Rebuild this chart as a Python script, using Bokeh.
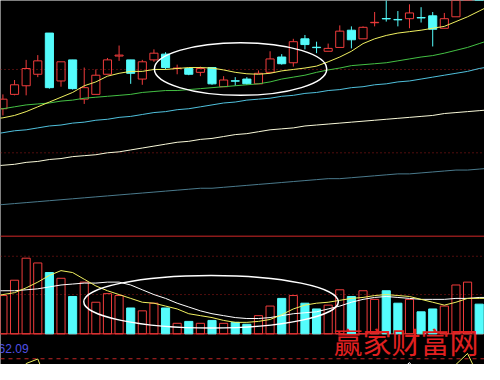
from bokeh.plotting import figure
from bokeh.models import Range1d, Span, ColumnDataSource
from bokeh.core.properties import value
from bokeh.embed import file_html
from bokeh.resources import INLINE

RED = "#f03c3c"
CYAN = "#54fcfc"

# ---- daily candles (price) ----
days = list(range(42))
opens = [18.70, 20.20, 21.10, 22.30, 26.60, 21.60, 23.80, 19.70, 20.20, 22.30,
         24.20, 23.80, 21.80, 23.80, 24.40, 22.90, 22.90, 22.50, 23.00, 21.00,
         21.62, 21.80, 21.30, 22.50, 24.10, 23.50, 26.00, 25.12, 24.70, 25.10,
         26.90, 26.00, 27.68, 28.12, 28.02, 28.10, 28.22, 28.40, 27.10, 28.30,
         30.60, 32.20]
highs = [20.20, 21.70, 23.80, 24.30, 26.60, 23.60, 23.80, 23.00, 22.80, 24.00,
         25.30, 23.80, 23.80, 24.90, 24.60, 23.30, 22.90, 23.10, 23.00, 22.10,
         22.00, 22.00, 22.70, 24.70, 24.40, 26.00, 26.40, 25.70, 25.50, 27.40,
         27.30, 27.30, 28.80, 30.20, 28.90, 29.60, 29.30, 28.80, 28.70, 30.80,
         31.80, 32.60]
lows = [18.00, 20.10, 20.10, 22.00, 20.80, 21.00, 20.70, 19.20, 20.20, 22.30,
        23.70, 21.30, 21.20, 23.60, 22.80, 22.30, 22.20, 22.10, 21.20, 21.00,
        21.10, 21.20, 21.30, 22.50, 23.30, 23.10, 24.90, 24.50, 24.70, 25.10,
        25.00, 26.00, 27.30, 27.80, 27.30, 27.10, 27.70, 25.20, 27.10, 28.30,
        30.30, 31.40]
closes = [19.70, 21.20, 22.90, 23.70, 20.90, 23.60, 20.80, 20.90, 22.20, 23.80,
          24.30, 22.40, 23.60, 24.50, 23.00, 22.95, 22.30, 22.90, 21.30, 21.70,
          21.58, 21.30, 22.40, 23.90, 23.40, 25.70, 25.40, 25.08, 25.00, 26.80,
          25.90, 27.20, 27.72, 28.08, 27.98, 28.70, 28.18, 27.00, 28.10, 30.40,
          31.50, 31.60]
volumes = [40, 56, 79, 74, 64, 58, 39, 54, 33, 42,
           40, 27, 24, 32, 27, 11, 13, 11, 14, 11,
           12, 10, 19, 29, 37, 40, 32, 26, 30, 46,
           39, 45, 36, 45, 32, 36, 23, 26, 29, 51,
           54, 31]

# ---- moving averages (index -1 .. 42) ----
ma_days = list(range(-1, 43))
ma_yellow = [17.60, 17.75, 18.00, 18.40, 18.90, 19.40, 19.90, 20.40, 21.10, 21.50,
             22.10, 22.40, 22.60, 22.60, 22.80, 22.80, 22.90, 23.00, 23.00, 22.95,
             22.75, 22.50, 22.35, 22.30, 22.40, 22.65, 22.80, 22.95, 23.15, 23.60,
             24.10, 24.70, 25.50, 26.00, 26.35, 26.60, 26.75, 26.90, 27.10, 27.30,
             27.80, 28.30, 28.90, 29.50]
ma_green = [18.60, 18.70, 18.90, 19.10, 19.20, 19.30, 19.50, 19.60, 19.80, 19.90,
            20.00, 20.10, 20.20, 20.40, 20.50, 20.60, 20.60, 20.70, 20.80, 20.90,
            21.00, 21.10, 21.20, 21.30, 21.50, 21.80, 22.00, 22.20, 22.50, 22.75,
            22.95, 23.20, 23.30, 23.40, 23.50, 23.70, 23.90, 24.10, 24.25, 24.50,
            24.80, 25.10, 25.50, 25.90]
ma_cyan = [16.00, 16.20, 16.40, 16.50, 16.70, 16.90, 17.00, 17.20, 17.30, 17.50,
           17.60, 17.80, 17.90, 18.10, 18.30, 18.40, 18.60, 18.70, 18.90, 19.10,
           19.30, 19.40, 19.60, 19.70, 19.80, 20.00, 20.10, 20.30, 20.40, 20.60,
           20.70, 20.90, 21.00, 21.20, 21.30, 21.50, 21.60, 21.80, 22.00, 22.20,
           22.40, 22.60, 22.90, 23.10]
ma_white = [12.70, 12.80, 12.90, 13.10, 13.20, 13.40, 13.50, 13.70, 13.80, 13.90,
            14.10, 14.20, 14.40, 14.60, 14.80, 15.00, 15.20, 15.30, 15.50, 15.60,
            15.80, 16.00, 16.10, 16.30, 16.50, 16.60, 16.70, 16.90, 17.00, 17.10,
            17.20, 17.30, 17.40, 17.50, 17.60, 17.70, 17.80, 17.90, 18.00, 18.20,
            18.30, 18.40, 18.50, 18.60]
ma_gray = [8.60, 8.70, 8.80, 8.90, 9.00, 9.10, 9.20, 9.30, 9.40, 9.50,
           9.60, 9.70, 9.80, 9.90, 10.00, 10.10, 10.20, 10.30, 10.40, 10.40,
           10.50, 10.60, 10.70, 10.80, 10.90, 11.00, 11.10, 11.20, 11.30, 11.40,
           11.40, 11.50, 11.60, 11.70, 11.80, 11.90, 11.90, 12.00, 12.10, 12.20,
           12.30, 12.30, 12.40, 12.50]
vol_ma5 = [39, 41, 43, 48, 54, 61, 66, 64, 57, 50,
           45, 41, 37, 33, 32, 29, 26, 21, 19, 17,
           14, 12, 12, 13, 15, 20, 26, 30, 32, 33,
           35, 37, 38, 40, 41, 40, 39, 36, 33, 30,
           33, 37, 37, 37]
vol_ma10 = [45, 45, 45, 46, 47, 49, 51, 52, 53, 53,
            54, 54, 51, 46, 41, 37, 32, 28, 24, 21,
            19, 17, 16, 16, 17, 19, 21, 22, 23, 26,
            29, 33, 36, 38, 39, 38, 37, 36, 36, 36,
            37, 37, 38, 38]

# ---- lower indicator (only its peaks reach into view) ----
ind_j = [60, 45, 90, 99.5, 40, 55, 30, 48, 62, 70,
         58, 35, 22, 40, 30, 18, 25, 20, 28, 15,
         22, 18, 35, 55, 48, 66, 52, 40, 45, 72,
         60, 75, 80, 78, 64, 70, 50, 38, 55, 88,
         111, 60]
ind_k = [50, 48, 62, 70, 60, 58, 48, 50, 55, 62,
         60, 50, 40, 42, 38, 30, 28, 26, 27, 22,
         22, 21, 26, 36, 40, 48, 50, 46, 46, 56,
         58, 63, 68, 72, 70, 92, 62, 52, 52, 64,
         80, 72]

# reference levels
price_levels = [22.8, 14.1]
price_separator = 5.4
vol_levels = [81, 41]
ind_level = 100

# highlighted zones (day start, day end, low, high)
price_zone = (13.04, 27.875, 20.1, 25.6)
vol_zone = (6.96, 28.875, 6, 61)

vol_label = "62.09"
watermark = "赢家财富网"

# ---------------- build sources ----------------
up = dict(x=[], top=[], bottom=[], hi=[], lo=[], vol=[])
dn = dict(x=[], top=[], bottom=[], hi=[], lo=[], vol=[])
for d, o, h, l, c, v in zip(days, opens, highs, lows, closes, volumes):
    tgt = up if c >= o else dn
    tgt["x"].append(d)
    tgt["top"].append(max(o, c))
    tgt["bottom"].append(min(o, c))
    tgt["hi"].append(h)
    tgt["lo"].append(l)
    tgt["vol"].append(v)
src_up = ColumnDataSource(up)
src_dn = ColumnDataSource(dn)

p = figure(width=484, height=364, output_backend="svg", toolbar_location=None,
           x_range=Range1d(-0.2083, 41.4583), y_range=Range1d(-8, 30),
           x_axis_location=None, y_axis_location=None,
           background_fill_color="black", border_fill_color="black",
           min_border=0, outline_line_color=None)
p.grid.visible = False
p.extra_y_ranges = {"vol": Range1d(-32, 348), "ind": Range1d(88, 848)}

for lv in price_levels:
    p.add_layout(Span(location=lv, dimension="width", line_color="#a01c1c",
                      line_dash="1 3", line_width=1, level="underlay"))
p.add_layout(Span(location=price_separator, dimension="width", line_color="#8c1a1a",
                  line_width=1.5, level="underlay"))
for lv in vol_levels:
    p.add_layout(Span(location=lv, dimension="width", y_range_name="vol",
                      line_color="#a01c1c", line_dash="1 3", line_width=1, level="underlay"))
p.add_layout(Span(location=0, dimension="width", y_range_name="vol",
                  line_color="#a01c1c", line_width=1.5, level="underlay"))
p.add_layout(Span(location=ind_level, dimension="width", y_range_name="ind",
                  line_color="#c02424", line_dash="4 4", line_width=1, level="underlay"))

# candles
p.segment(x0="x", y0="hi", x1="x", y1="top", source=src_up, line_color=RED, line_width=1)
p.segment(x0="x", y0="bottom", x1="x", y1="lo", source=src_up, line_color=RED, line_width=1)
p.vbar(x="x", top="top", bottom="bottom", width=0.7, source=src_up,
       fill_color=None, line_color=RED, line_width=1)
p.segment(x0="x", y0="hi", x1="x", y1="lo", source=src_dn, line_color=CYAN, line_width=1)
p.vbar(x="x", top="top", bottom="bottom", width=0.7, source=src_dn,
       fill_color=CYAN, line_color=CYAN, line_width=1)

# moving averages
p.line(ma_days, ma_gray, line_color="#4a7a8c", line_width=1)
p.line(ma_days, ma_white, line_color="#f8f8d8", line_width=1)
p.line(ma_days, ma_cyan, line_color="#50c0dc", line_width=1)
p.line(ma_days, ma_green, line_color="#44c044", line_width=1)
p.line(ma_days, ma_yellow, line_color="#f0f060", line_width=1)

# volume
p.vbar(x="x", top="vol", bottom=0, width=0.7, source=src_up, y_range_name="vol",
       fill_color=None, line_color=RED, line_width=1)
p.vbar(x="x", top="vol", bottom=0, width=0.7, source=src_dn, y_range_name="vol",
       fill_color=CYAN, line_color=CYAN, line_width=1)
p.line(ma_days, vol_ma10, y_range_name="vol", line_color="#ffffff", line_width=1)
p.line(ma_days, vol_ma5, y_range_name="vol", line_color="#f0f060", line_width=1)

# lower indicator
p.line(days, ind_k, y_range_name="ind", line_color="#ffffff", line_width=1)
p.line(days, ind_j, y_range_name="ind", line_color="#f0f060", line_width=1)

# highlight ellipses
x0, x1, y0, y1 = price_zone
p.ellipse(x=[(x0 + x1) / 2], y=[(y0 + y1) / 2], width=[x1 - x0], height=[y1 - y0],
          fill_color=None, line_color="white", line_width=1.5)
x0, x1, y0, y1 = vol_zone
p.ellipse(x=[(x0 + x1) / 2], y=[(y0 + y1) / 2], width=[x1 - x0], height=[y1 - y0],
          y_range_name="vol", fill_color=None, line_color="white", line_width=1.5)

# texts
p.text(x=[-0.375], y=[-15], text=[vol_label], y_range_name="vol",
       text_font=value("Liberation Sans"), text_font_size="12px",
       text_color="#5050e6", text_align="left", text_baseline="alphabetic")
p.text(x=[34.7], y=[-7], text=[watermark], y_range_name="vol",
       text_font=value("Noto Sans CJK SC"), text_font_size="29px",
       text_color="#e02020", text_align="center", text_baseline="middle")

open("out.html", "w").write(file_html(p, INLINE))
